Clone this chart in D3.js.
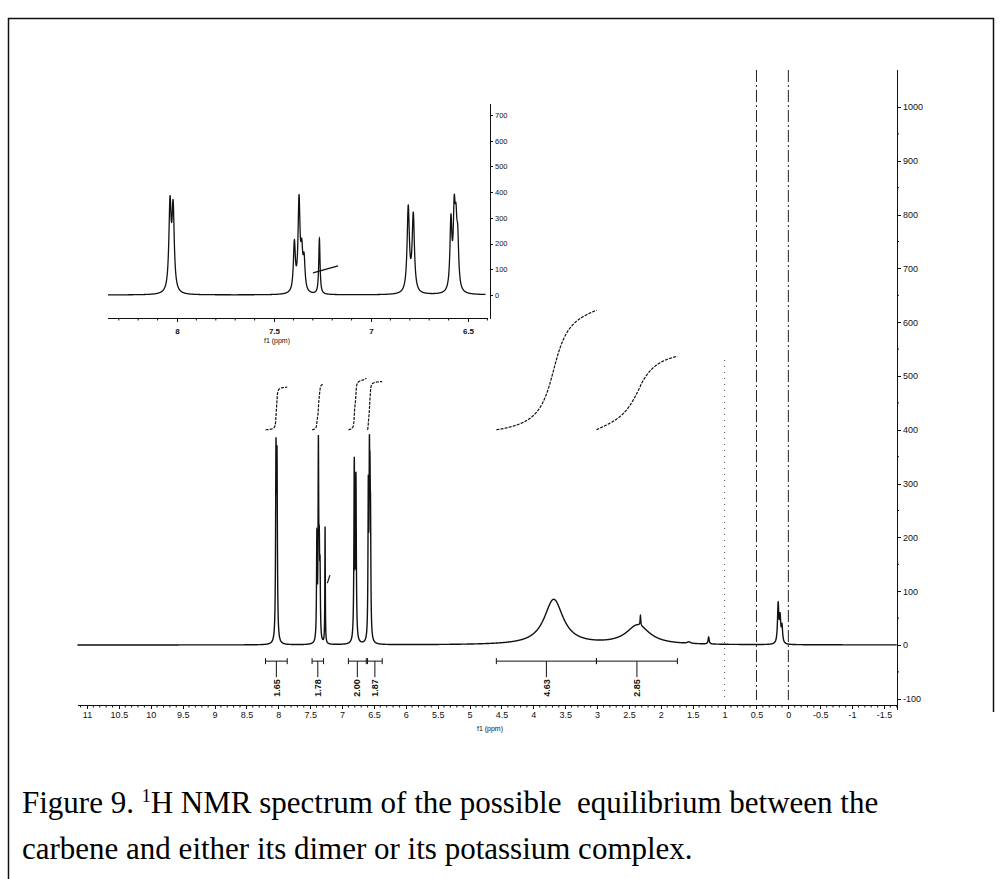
<!DOCTYPE html>
<html><head><meta charset="utf-8">
<script src="https://cdn.jsdelivr.net/npm/d3@7"></script>
<style>
html,body{margin:0;padding:0;background:#fff;}
svg{display:block;}
.ax text{font-family:"Liberation Sans",Arial,sans-serif;font-size:9px;fill:#111;}
.ax path,.ax line{stroke:#111;stroke-width:1;shape-rendering:crispEdges;}
</style></head>
<body>
<svg id="c" width="1001" height="879"></svg>
<script>
// ---------- DATA ----------
// peak list read from the picture: position (ppm), observed height, half-width (ppm)
const peakPpm    = [8.036, 8.020, 7.395, 7.371, 7.357, 7.345, 7.266, 6.808, 6.782, 6.588, 6.571, 6.562, 6.553, 3.68, 2.36, 2.32, 1.56, 1.25, 0.16, 0.13, 0.10];
const peakHeight = [385,   370,   215,   390,   220,   165,   220,   350,   322,   315,   389,   358,   272,   85,   38,   55,   6,    15,   80,   60,   40];
const peakWidth  = [0.007, 0.007, 0.006, 0.006, 0.006, 0.006, 0.004, 0.007, 0.007, 0.006, 0.006, 0.006, 0.006, 0.18, 0.22, 0.006,0.03, 0.01, 0.012,0.012,0.012];

// integrals
const intFrom   = [8.20, 7.47, 6.90, 6.60, 4.58, 3.01];
const intTo     = [7.86, 7.29, 6.62, 6.37, 3.01, 1.74];
const intValues = [1.65, 1.78, 2.00, 1.87, 4.63, 2.85];
const intLabels = ["1.65", "1.78", "2.00", "1.87", "4.63", "2.85"];

// axes
const xTicks      = [11, 10.5, 10, 9.5, 9, 8.5, 8, 7.5, 7, 6.5, 6, 5.5, 5, 4.5, 4, 3.5, 3, 2.5, 2, 1.5, 1, 0.5, 0, -0.5, -1, -1.5];
const xTickLabels = ["11","10.5","10","9.5","9","8.5","8","7.5","7","6.5","6","5.5","5","4.5","4","3.5","3","2.5","2","1.5","1","0.5","0","-0.5","-1","-1.5"];
const yTicks      = [-100, 0, 100, 200, 300, 400, 500, 600, 700, 800, 900, 1000];
const yTickLabels = ["-100","0","100","200","300","400","500","600","700","800","900","1000"];
const insetXTicks = [8, 7.5, 7, 6.5];
const insetXLabels= ["8", "7.5", "7", "6.5"];
const insetYTicks = [0, 100, 200, 300, 400, 500, 600, 700];
const insetYLabels= ["0","100","200","300","400","500","600","700"];

// reference lines (ppm)
const dashLines = [0.5, 0];
const dotLines  = [1];

const captionLine1a = "Figure 9. ";
const captionSup = "1";
const captionLine1b = "H NMR spectrum of the possible  equilibrium between the";
const captionLine2 = "carbene and either its dimer or its potassium complex.";

// ---------- SOLVE AMPLITUDES so the summed line shapes reach the read heights ----------
const N = peakPpm.length;
const L = (p, k) => 1 / (1 + Math.pow((p - peakPpm[k]) / peakWidth[k], 2));
const amp = peakHeight.slice();
for (let it = 0; it < 300; it++) {
  for (let i = 0; i < N; i++) {
    let other = 0;
    for (let j = 0; j < N; j++) if (j !== i) other += amp[j] * L(peakPpm[i], j);
    amp[i] = Math.max(0, peakHeight[i] - other);
  }
}
const spec = p => { let s = 0; for (let k = 0; k < N; k++) s += amp[k] * L(p, k); return s; };

function samples(a, b, step, dense) {
  let pts = d3.range(a, b, -step);
  pts.push(b);
  for (let k = 0; k < N; k++) {
    if (peakWidth[k] < 0.05 && peakPpm[k] < a && peakPpm[k] > b) {
      pts = pts.concat(d3.range(Math.min(a, peakPpm[k] + 0.12), Math.max(b, peakPpm[k] - 0.12), -dense));
    }
  }
  pts.sort((u, v) => v - u);
  return pts;
}

// ---------- LAYOUT ----------
const svg = d3.select("#c");

// border
svg.append("path").attr("d", "M8.5,879 L8.5,18.5 L993.5,18.5 L993.5,712")
  .attr("fill", "none").attr("stroke", "#111").attr("stroke-width", 1.5);

// main scales
const x = d3.scaleLinear().domain([11, -1.5]).range([87, 884]);
const y = d3.scaleLinear().domain([0, 1000]).range([645, 107]);
const xExt = d3.scaleLinear().domain([11.15, -1.7]).range([x(11.15), x(-1.7)]);
const yExt = d3.scaleLinear().domain([-120, 1070]).range([y(-120), y(1070)]);

// reference lines
svg.selectAll(".dl").data(dashLines).join("line")
  .attr("x1", d => x(d)).attr("x2", d => x(d)).attr("y1", 70).attr("y2", 700)
  .attr("stroke", "#222").attr("stroke-width", 1).attr("stroke-dasharray", "12,3,2,3");
svg.selectAll(".dt").data(dotLines).join("line")
  .attr("x1", d => x(d)).attr("x2", d => x(d)).attr("y1", 360).attr("y2", 700)
  .attr("stroke", "#555").attr("stroke-width", 1).attr("stroke-dasharray", "1,5");

// main spectrum
const mainPts = samples(11.15, -1.7, 0.004, 0.0004);
const line = d3.line().x(d => x(d)).y(d => y(spec(d)));
svg.append("path").attr("d", line(mainPts)).attr("fill", "none")
  .attr("stroke", "#111").attr("stroke-width", 1.4);

// integral curves (offset 400, scaled by integral value)
const intOffset = 400, intScale = 48;
intFrom.forEach((a, i) => {
  const b = intTo[i];
  const pts = d3.range(a, b, -0.0005); pts.push(b);
  let cum = 0; const c = [0];
  for (let k = 1; k < pts.length; k++) { cum += (spec(pts[k]) + spec(pts[k - 1])) / 2; c.push(cum); }
  const tot = c[c.length - 1];
  const data = pts.map((p, k) => [p, intOffset + c[k] / tot * intValues[i] * intScale]);
  svg.append("path").attr("d", d3.line().x(d => x(d[0])).y(d => y(d[1]))(data))
    .attr("fill", "none").attr("stroke", "#111").attr("stroke-width", 1.2).attr("stroke-dasharray", "3,1.2");
});

// small slanted mark at 7.26 in main
svg.append("line").attr("x1", x(7.23)).attr("y1", y(115)).attr("x2", x(7.19)).attr("y2", y(130))
  .attr("stroke", "#111").attr("stroke-width", 1.2);

// integration brackets
const by = y(-30);
intFrom.forEach((a, i) => {
  const b = intTo[i], x1 = x(a), x2 = x(b), xm = (x1 + x2) / 2;
  const g = svg.append("g").attr("stroke", "#111").attr("stroke-width", 1);
  g.append("line").attr("x1", x1).attr("x2", x2).attr("y1", by).attr("y2", by);
  g.append("line").attr("x1", x1).attr("x2", x1).attr("y1", by - 3).attr("y2", by + 3);
  g.append("line").attr("x1", x2).attr("x2", x2).attr("y1", by - 3).attr("y2", by + 3);
  g.append("line").attr("x1", xm).attr("x2", xm).attr("y1", by).attr("y2", by + 16);
  svg.append("text").attr("transform", `translate(${xm},${by + 18}) rotate(-90)`)
    .attr("text-anchor", "end").attr("dy", "0.35em")
    .style("font-family", "Liberation Sans, Arial, sans-serif").style("font-size", "9px").style("font-weight", "bold")
    .attr("fill", "#111").text(intLabels[i]);
});

// main x axis
const xAxisG = svg.append("g").attr("class", "ax").attr("transform", "translate(0,705)");
xAxisG.call(d3.axisBottom(xExt).tickValues(xTicks).tickSize(4).tickPadding(3)
  .tickFormat((d, i) => xTickLabels[i]).tickSizeOuter(0));
const xMinor = d3.range(-17, 112).map(v => v / 10).filter(v => Math.abs(v * 2 - Math.round(v * 2)) > 1e-6);
svg.selectAll(".xmin").data(xMinor).join("line")
  .attr("x1", d => xExt(d)).attr("x2", d => xExt(d)).attr("y1", 705).attr("y2", 707.5)
  .attr("stroke", "#111").attr("stroke-width", 1);
svg.append("text").attr("x", 490).attr("y", 731).attr("text-anchor", "middle")
  .style("font-family", "Liberation Sans, Arial, sans-serif").style("font-size", "7px").style("fill", "#111").text("f1 (ppm)");

// main y axis (right)
const yAxisG = svg.append("g").attr("class", "ax").attr("transform", "translate(897,0)");
yAxisG.call(d3.axisRight(yExt).tickValues(yTicks).tickSize(4).tickPadding(2)
  .tickFormat((d, i) => yTickLabels[i]).tickSizeOuter(0));
svg.selectAll(".ymin").data(d3.range(-50, 1050, 100)).join("line")
  .attr("x1", 897).attr("x2", 899).attr("y1", d => y(d)).attr("y2", d => y(d))
  .attr("stroke", "#111").attr("stroke-width", 1);

// ---------- INSET ----------
const xi = d3.scaleLinear().domain([8, 6.5]).range([177, 468]);
const yi = d3.scaleLinear().domain([0, 700]).range([295, 115]);
const xiExt = d3.scaleLinear().domain([8.356, 6.397]).range([xi(8.356), xi(6.397)]);
const yiExt = d3.scaleLinear().domain([-90, 746]).range([yi(-90), yi(746)]);

const insetPts = samples(8.356, 6.41, 0.0005, 0.0002);
svg.append("path").attr("d", d3.line().x(d => xi(d)).y(d => yi(spec(d)))(insetPts))
  .attr("fill", "none").attr("stroke", "#111").attr("stroke-width", 1.3);
svg.append("line").attr("x1", xi(7.299)).attr("y1", yi(86)).attr("x2", xi(7.17)).attr("y2", yi(113))
  .attr("stroke", "#111").attr("stroke-width", 1.3);

const ixG = svg.append("g").attr("class", "ax").attr("transform", "translate(0,318)");
ixG.call(d3.axisBottom(xiExt).tickValues(insetXTicks).tickSize(4).tickPadding(6)
  .tickFormat((d, i) => insetXLabels[i]).tickSizeOuter(0));
ixG.selectAll("text").style("font-size", "8px").style("font-weight", "bold");
const xiMinor = d3.range(64, 84).map(v => v / 10).filter(v => Math.abs(v * 2 - Math.round(v * 2)) > 1e-6);
svg.selectAll(".ximin").data(xiMinor).join("line")
  .attr("x1", d => xiExt(d)).attr("x2", d => xiExt(d)).attr("y1", 318).attr("y2", 320.5)
  .attr("stroke", "#111").attr("stroke-width", 1);
svg.append("text").attr("x", 277).attr("y", 343).attr("text-anchor", "middle")
  .style("font-family", "Liberation Sans, Arial, sans-serif").style("font-size", "7px").style("fill", "#111").text("f1 (ppm)");

const iyG = svg.append("g").attr("class", "ax").attr("transform", "translate(490,0)");
iyG.call(d3.axisRight(yiExt).tickValues(insetYTicks).tickSize(3).tickPadding(2)
  .tickFormat((d, i) => insetYLabels[i]).tickSizeOuter(0));
iyG.selectAll("text").style("font-size", "7.5px");

// ---------- CAPTION ----------
const cap = svg.append("g").style("font-family", "Liberation Serif, Times New Roman, serif")
  .style("font-size", "31px").style("fill", "#000");
const t1 = cap.append("text").attr("x", 22).attr("y", 813).attr("xml:space", "preserve");
t1.append("tspan").text(captionLine1a);
t1.append("tspan").attr("dy", -11).style("font-size", "18px").text(captionSup);
t1.append("tspan").attr("dy", 11).text(captionLine1b);
cap.append("text").attr("x", 22).attr("y", 859).text(captionLine2);
</script>
</body></html>
